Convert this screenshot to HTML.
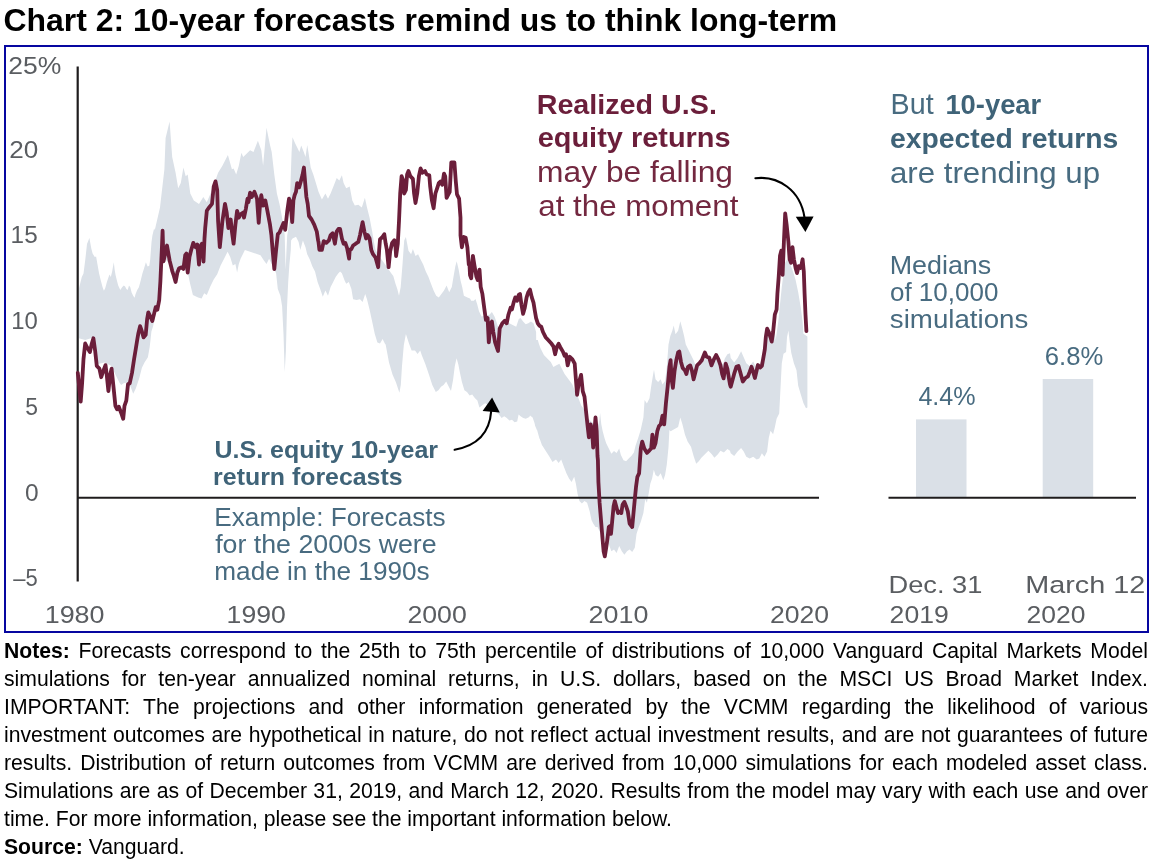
<!DOCTYPE html>
<html><head><meta charset="utf-8"><title>Chart 2</title>
<style>
html,body{margin:0;padding:0;background:#fff;}
body{width:1156px;height:866px;position:relative;overflow:hidden;will-change:transform;font-family:"Liberation Sans",Arial,sans-serif;color:#000;}
.title{position:absolute;left:3.5px;top:1.7px;font-size:31.93px;font-weight:bold;line-height:36px;white-space:nowrap;letter-spacing:0px;}
.ln{position:absolute;left:4px;width:1144px;font-size:21.17px;line-height:28px;height:28px;white-space:nowrap;}
.ln.j{white-space:normal;text-align:justify;text-align-last:justify;}
</style></head><body>
<div class="title">Chart 2: 10-year forecasts remind us to think long-term</div>
<svg width="1156" height="640" viewBox="0 0 1156 640" style="position:absolute;left:0;top:0" font-family="Liberation Sans, Arial, sans-serif"><rect x="5" y="46" width="1143" height="586" fill="#fff" stroke="#0606a0" stroke-width="2"/><path d="M78.8,289.1 L81.8,276.9 L83.5,273.5 L85.3,259.6 L87.0,244.0 L89.4,238.0 L91.3,248.4 L92.6,253.6 L94.8,257.0 L96.1,256.6 L97.4,264.0 L99.1,273.5 L100.8,280.4 L102.6,287.3 L103.9,290.8 L105.2,288.2 L106.9,282.1 L108.6,276.9 L109.5,274.4 L110.8,276.9 L112.1,271.8 L113.8,262.2 L114.7,270.0 L115.6,275.2 L116.9,280.4 L118.2,285.6 L120.3,289.9 L122.1,287.3 L123.8,285.6 L125.1,286.5 L126.4,289.1 L127.7,289.9 L129.0,285.6 L130.3,287.3 L131.6,292.5 L133.3,296.0 L134.6,297.7 L135.5,294.3 L137.2,289.9 L138.9,287.3 L140.7,280.4 L142.4,273.5 L144.1,268.3 L145.9,262.2 L147.6,266.6 L149.3,265.7 L150.2,259.6 L151.5,242.3 L152.4,235.4 L154.1,228.5 L154.8,229.9 L160.0,207.4 L164.4,169.3 L165.6,138.1 L169.6,121.6 L172.2,157.1 L175.6,172.7 L178.2,188.3 L180.8,183.1 L183.4,167.5 L185.7,176.2 L187.7,174.5 L190.3,193.5 L193.8,200.4 L199.0,203.9 L203.3,197.0 L206.8,202.2 L212.0,190.0 L218.1,172.7 L222.4,165.8 L227.9,155.1 L231.9,169.3 L233.6,168.4 L236.2,174.5 L238.8,165.8 L241.4,152.8 L243.2,157.1 L245.8,154.5 L250.1,150.2 L253.5,151.9 L257.9,140.7 L261.3,150.2 L263.1,165.8 L266.5,127.7 L270.0,145.0 L271.7,151.9 L274.3,174.5 L276.9,193.5 L279.5,203.9 L282.1,217.7 L283.9,228.1 L284.7,235.2 L285.6,269.8 L287.3,233.3 L287.3,235.2 L289.4,221.2 L290.4,186.6 L291.6,151.9 L292.5,137.2 L295.1,143.3 L297.7,148.5 L299.4,151.9 L301.2,145.4 L303.8,151.9 L305.5,157.1 L307.2,145.0 L308.4,151.9 L310.7,167.5 L313.3,174.5 L315.9,183.1 L318.5,191.8 L321.9,199.6 L325.4,193.5 L328.0,198.7 L330.6,193.5 L334.1,184.8 L336.7,177.9 L339.3,180.5 L341.9,175.3 L343.6,183.1 L346.2,188.3 L349.7,186.6 L352.3,200.4 L354.8,205.6 L358.3,204.8 L361.8,207.4 L364.9,197.8 L367.0,207.4 L369.6,217.7 L372.2,231.6 L373.9,242.0 L375.6,250.0 L380.8,258.6 L385.2,264.6 L389.5,270.7 L391.2,273.3 L393.3,275.9 L395.5,283.7 L397.3,288.9 L399.0,295.8 L400.7,287.1 L402.5,264.6 L404.2,240.4 L405.9,236.9 L408.5,250.8 L411.1,254.2 L412.9,249.0 L415.5,256.0 L418.1,254.2 L420.6,259.4 L423.2,264.6 L425.8,271.6 L428.4,276.8 L431.0,283.7 L433.6,290.6 L436.2,295.8 L438.8,297.5 L441.4,294.1 L444.0,290.6 L446.6,285.4 L449.2,292.3 L451.8,287.1 L453.5,276.8 L455.3,266.4 L456.7,261.2 L458.7,269.8 L460.5,280.2 L462.2,287.1 L463.9,295.8 L467.4,297.5 L470.0,298.4 L471.2,300.8 L473.8,300.8 L475.5,299.1 L477.2,304.3 L479.0,311.2 L481.6,316.4 L489.4,314.7 L491.9,312.1 L494.5,316.4 L496.3,321.6 L498.0,326.8 L509.3,323.3 L512.7,325.1 L516.2,326.8 L518.8,319.0 L520.5,318.1 L523.1,321.6 L525.7,324.2 L528.3,323.3 L530.9,321.6 L533.5,323.3 L536.1,332.0 L536.2,340.0 L537.8,340.0 L538.8,343.5 L540.4,348.1 L543.9,355.0 L547.3,358.5 L550.8,361.9 L553.4,367.1 L556.0,365.4 L559.4,363.7 L562.0,368.9 L564.6,374.1 L567.2,377.5 L569.8,381.0 L572.4,384.5 L575.0,391.4 L578.5,398.3 L581.1,405.2 L583.7,408.7 L587.1,417.4 L592.3,422.6 L598.4,424.3 L599.3,420.8 L600.1,413.0 L601.3,424.3 L602.7,431.2 L604.5,438.1 L606.2,443.3 L608.8,448.5 L611.4,453.7 L614.0,451.1 L616.6,452.9 L619.2,448.5 L620.9,455.1 L623.5,460.3 L626.1,461.2 L628.7,458.6 L631.3,456.0 L633.9,452.5 L635.6,445.6 L638.2,438.1 L640.8,429.5 L643.4,417.4 L644.6,400.0 L646.9,403.5 L649.5,398.3 L651.2,386.2 L652.9,375.8 L654.0,369.7 L655.5,379.3 L658.1,381.9 L660.7,379.3 L662.5,384.5 L665.1,381.0 L666.8,367.1 L668.5,344.6 L670.3,336.0 L672.3,330.8 L673.7,325.6 L675.5,334.2 L678.1,330.8 L680.3,321.3 L682.4,329.0 L684.1,336.0 L685.8,344.6 L688.4,349.8 L691.0,355.0 L693.6,360.2 L696.2,367.1 L699.7,365.4 L703.2,360.2 L706.6,358.5 L711.8,363.7 L716.1,358.5 L720.5,363.7 L723.1,363.7 L724.8,358.5 L727.4,354.2 L730.0,353.3 L730.7,358.1 L734.2,362.4 L737.6,358.1 L741.1,351.2 L743.7,357.2 L746.3,363.3 L749.7,365.9 L753.2,361.6 L755.8,366.8 L759.3,365.0 L762.7,358.1 L765.3,346.0 L767.9,333.9 L772.3,337.3 L774.0,323.5 L775.7,340.0 L778.3,321.6 L780.0,304.3 L781.8,287.0 L783.5,273.1 L785.2,262.7 L787.0,259.3 L790.4,264.5 L793.0,271.4 L795.6,280.0 L798.2,292.2 L800.8,307.7 L802.6,321.6 L803.4,333.7 L807.4,336.5 L807.4,407.4 L806.0,408.3 L803.4,403.1 L800.8,394.5 L798.2,385.8 L796.5,370.2 L793.9,363.3 L791.3,352.9 L789.6,340.8 L788.4,330.4 L787.0,337.3 L786.1,352.0 L783.5,353.8 L781.8,363.3 L780.9,380.6 L780.0,397.9 L779.2,413.5 L776.6,418.7 L774.8,427.4 L773.1,434.3 L770.5,430.8 L768.8,437.7 L767.1,451.6 L764.5,456.8 L761.9,453.3 L759.3,458.5 L756.7,459.4 L753.2,456.8 L749.7,458.5 L746.3,456.8 L743.7,451.6 L741.1,448.1 L737.6,451.6 L734.2,455.9 L730.7,453.3 L730.0,450.8 L727.4,449.0 L723.9,452.5 L720.5,450.8 L717.9,454.2 L714.4,457.7 L711.8,454.2 L708.4,450.8 L704.9,454.2 L701.4,457.7 L698.8,461.2 L696.2,463.8 L693.6,456.0 L691.0,446.8 L687.6,441.6 L685.0,434.7 L682.4,424.3 L680.3,417.4 L678.1,426.9 L675.5,428.6 L670.6,431.2 L669.4,430.0 L668.5,447.3 L666.8,464.6 L665.1,475.0 L663.3,480.2 L660.7,473.3 L658.1,476.8 L655.5,475.0 L653.8,469.8 L652.1,478.5 L650.3,483.7 L648.6,494.1 L646.9,502.7 L645.2,499.3 L643.4,513.1 L640.8,521.8 L638.2,528.7 L636.5,533.9 L634.8,547.7 L632.2,552.1 L629.6,549.5 L627.0,551.2 L624.4,554.7 L621.8,551.2 L619.2,546.0 L616.6,552.9 L614.0,549.5 L611.4,551.2 L608.8,544.3 L606.2,540.8 L601.0,533.9 L597.5,527.0 L595.5,527.0 L593.2,523.5 L591.5,520.0 L589.7,511.4 L587.1,502.7 L584.5,501.0 L581.9,503.6 L579.4,501.0 L577.6,494.1 L575.9,483.7 L574.2,476.8 L571.6,481.9 L569.0,478.5 L566.4,473.3 L563.8,466.4 L561.2,459.4 L558.6,462.9 L556.0,459.4 L552.5,462.0 L549.0,456.0 L545.6,450.8 L542.3,445.6 L542.1,445.6 L539.7,438.7 L539.5,438.7 L537.1,430.0 L536.9,430.0 L535.2,426.0 L534.5,423.1 L532.8,417.9 L532.6,417.4 L530.0,415.6 L529.3,417.1 L525.8,418.8 L523.2,417.9 L520.6,416.2 L518.6,414.5 L517.2,421.4 L514.6,422.3 L512.0,419.7 L509.4,420.5 L506.8,417.9 L504.2,416.2 L501.6,417.9 L499.0,414.5 L494.7,411.0 L489.5,405.8 L485.2,403.2 L482.6,404.9 L479.4,407.5 L477.4,400.6 L474.8,398.0 L472.2,394.5 L469.6,395.4 L467.0,391.9 L464.4,390.2 L461.8,381.6 L460.0,372.9 L458.3,364.2 L456.6,358.2 L454.8,366.0 L453.1,379.8 L451.0,391.1 L448.8,386.8 L446.2,381.6 L443.6,385.0 L441.0,386.8 L438.4,390.2 L435.8,391.9 L432.3,385.0 L428.9,374.6 L425.4,364.2 L421.9,355.6 L420.2,350.4 L417.6,353.9 L415.0,350.4 L411.6,350.4 L409.0,343.5 L405.9,333.9 L403.8,345.2 L402.0,366.0 L400.8,385.0 L399.4,392.8 L396.0,382.4 L392.5,374.6 L389.0,362.5 L385.6,344.3 L385.2,344.3 L382.6,339.1 L380.0,343.4 L377.4,342.6 L374.8,333.9 L372.2,321.8 L369.6,309.7 L367.0,299.3 L365.2,294.1 L362.6,301.9 L360.0,299.3 L356.6,300.1 L353.1,299.3 L351.4,288.9 L348.8,281.9 L346.2,283.7 L344.5,280.2 L341.9,273.3 L340.1,271.6 L338.4,273.3 L335.8,276.8 L333.2,281.9 L330.6,287.1 L328.0,295.8 L325.4,290.6 L322.8,296.7 L320.2,288.9 L317.6,281.9 L315.0,271.6 L312.4,266.4 L309.8,259.4 L307.2,254.2 L305.5,247.3 L302.9,240.4 L300.3,250.0 L298.6,242.0 L296.0,236.8 L292.5,238.5 L291.1,240.4 L290.8,250.0 L289.4,264.6 L288.2,281.9 L287.0,307.9 L285.9,351.2 L284.7,372.0 L283.5,333.9 L282.1,306.2 L280.4,295.8 L277.8,288.9 L276.1,273.3 L269.1,258.7 L266.5,263.9 L263.9,260.4 L260.5,255.2 L244.9,250.0 L243.2,253.5 L240.6,258.7 L238.8,263.9 L237.1,272.5 L235.4,263.9 L232.8,265.6 L230.2,256.9 L227.6,251.7 L224.1,258.7 L220.6,265.6 L217.2,274.2 L213.7,279.4 L210.3,286.4 L206.8,295.0 L204.2,293.3 L201.6,298.5 L198.1,297.6 L192.9,295.0 L190.3,284.6 L187.7,272.5 L182.6,269.0 L178.2,270.8 L175.6,279.4 L170.4,265.6 L164.4,257.8 L161.8,262.1 L160.4,281.2 L159.2,300.2 L156.6,310.6 L154.8,317.5 L153.1,326.2 L151.4,331.4 L150.5,340.0 L149.7,346.9 L147.9,357.3 L144.5,362.5 L141.9,367.7 L139.3,378.1 L135.8,388.5 L133.2,393.7 L130.6,386.8 L127.1,382.4 L123.7,383.3 L121.1,385.0 L119.4,382.4 L115.4,374.6 L111.6,366.0 L104.6,362.5 L96.8,364.2 L93.4,337.4 L85.2,340.0 L78.7,338.3 Z" fill="#dae0e7" stroke="none"/><rect x="916" y="419.4" width="50.5" height="78" fill="#dae0e7"/><rect x="1042.7" y="379" width="50.5" height="118.5" fill="#dae0e7"/><line x1="77.7" y1="66.5" x2="77.7" y2="581.5" stroke="#1f1c1d" stroke-width="2.2"/><line x1="77" y1="497.8" x2="819" y2="497.8" stroke="#1f1c1d" stroke-width="2"/><line x1="888.5" y1="497.8" x2="1136" y2="497.8" stroke="#1f1c1d" stroke-width="2"/><path d="M77.8,372.9 L79.5,390.2 L80.7,401.5 L82.1,383.3 L83.5,359.0 L85.2,343.5 L87.3,347.8 L89.9,352.1 L91.6,344.3 L93.4,338.3 L95.1,350.4 L96.8,366.0 L99.4,368.6 L101.2,377.2 L103.2,371.2 L105.5,365.1 L106.7,374.6 L108.4,391.1 L110.2,374.6 L111.6,368.6 L113.3,385.0 L115.4,405.8 L117.1,409.3 L118.8,406.7 L121.1,412.7 L123.2,418.8 L124.5,405.8 L126.3,400.6 L128.0,384.2 L129.7,383.3 L132.0,372.9 L134.1,359.0 L135.8,348.7 L137.2,340.0 L138.4,333.1 L140.1,326.2 L141.9,331.4 L143.6,337.4 L145.7,334.8 L147.1,319.3 L148.3,312.3 L150.0,315.8 L152.3,321.0 L154.0,314.1 L155.7,307.1 L157.4,309.7 L159.2,300.2 L160.4,281.2 L161.8,250.0 L162.6,230.7 L163.5,261.4 L167.0,245.5 L167.8,250.0 L169.6,260.4 L172.2,270.8 L173.9,276.0 L175.6,282.0 L177.4,272.5 L179.1,268.2 L181.7,267.3 L183.4,269.0 L185.2,255.2 L186.4,253.5 L187.7,272.5 L189.5,256.9 L191.2,250.0 L193.3,242.9 L195.5,247.2 L197.3,244.6 L199.0,264.7 L199.9,247.2 L201.9,243.7 L203.5,261.7 L204.5,238.5 L205.2,228.1 L206.8,210.8 L208.5,208.2 L212.0,203.9 L213.7,186.6 L215.5,181.4 L217.2,190.0 L218.1,221.2 L219.8,247.2 L222.4,221.2 L225.0,203.9 L226.7,212.6 L228.4,228.1 L230.7,219.5 L231.9,231.6 L233.6,243.7 L235.4,224.7 L237.1,210.8 L238.8,217.7 L240.6,214.3 L243.2,212.6 L244.0,217.7 L245.8,209.1 L247.5,198.7 L248.4,202.2 L250.1,192.6 L251.8,197.0 L254.4,191.8 L257.0,198.7 L258.7,222.9 L260.1,203.9 L261.3,195.2 L263.1,205.6 L265.3,200.4 L267.4,210.8 L270.0,224.7 L271.4,235.1 L272.6,250.0 L274.3,269.0 L276.1,250.0 L277.8,234.2 L279.5,232.5 L281.3,228.1 L283.5,222.9 L285.2,229.9 L287.3,210.8 L289.0,198.7 L290.4,202.2 L292.2,222.1 L293.4,200.4 L294.6,195.2 L296.0,191.8 L297.2,183.1 L299.1,187.4 L300.8,181.4 L302.6,174.5 L303.9,167.5 L305.2,183.1 L306.4,197.0 L307.7,203.9 L309.0,216.0 L311.6,219.5 L314.2,224.7 L316.8,231.6 L318.1,240.4 L318.5,242.0 L319.4,249.9 L321.9,249.9 L323.7,241.1 L326.3,242.9 L328.9,240.3 L330.6,235.1 L332.7,233.3 L334.9,243.7 L336.7,231.6 L338.4,229.0 L340.1,229.0 L341.9,238.5 L343.6,243.7 L345.3,242.9 L347.1,248.1 L349.1,258.6 L349.7,250.0 L351.4,249.0 L353.1,245.5 L355.7,243.7 L358.3,242.0 L360.0,235.1 L362.6,222.1 L364.4,231.6 L366.1,238.5 L367.8,235.1 L369.6,238.5 L371.3,250.0 L373.0,254.2 L375.6,257.7 L378.2,267.2 L379.1,250.8 L380.0,239.4 L382.6,236.8 L384.3,234.2 L385.7,243.7 L386.9,250.0 L388.6,267.2 L390.3,250.0 L390.3,250.8 L392.1,242.9 L394.3,240.3 L395.5,247.2 L396.1,256.0 L397.8,243.7 L399.0,221.2 L400.2,193.5 L401.6,176.2 L403.0,179.7 L404.2,193.5 L405.9,190.0 L407.1,174.5 L408.5,171.0 L410.3,176.2 L412.9,178.8 L414.1,193.5 L415.5,203.0 L417.2,193.5 L418.9,176.2 L420.6,168.4 L422.4,172.7 L425.0,171.0 L426.7,174.5 L429.3,175.3 L430.2,186.6 L431.9,200.4 L433.6,208.2 L435.4,193.5 L437.1,188.3 L438.8,183.1 L440.6,181.4 L442.3,184.8 L444.0,173.6 L445.2,176.2 L446.6,197.8 L448.4,194.4 L449.7,191.8 L451.3,162.3 L454.4,162.3 L455.8,181.4 L457.0,194.4 L459.1,198.7 L460.5,217.7 L460.5,235.2 L461.9,247.3 L463.6,236.9 L465.7,237.8 L467.4,247.3 L468.8,264.6 L469.4,262.7 L470.0,275.0 L471.2,278.3 L472.9,255.8 L474.6,266.2 L476.4,276.6 L477.7,280.0 L479.5,269.7 L480.7,287.0 L482.4,293.9 L484.2,307.7 L485.9,319.9 L487.6,318.1 L488.8,342.4 L490.6,323.3 L491.9,321.6 L493.3,332.0 L495.1,342.4 L498.0,351.0 L499.7,328.5 L502.3,323.3 L504.9,320.7 L506.7,323.3 L508.4,314.7 L510.6,307.7 L511.9,309.5 L513.6,302.6 L515.3,297.4 L517.1,300.8 L518.8,294.8 L520.0,293.9 L521.4,304.3 L523.1,313.8 L524.8,307.7 L526.6,297.4 L528.3,292.2 L530.0,289.6 L531.8,297.4 L533.5,302.6 L534.9,311.2 L536.1,318.1 L537.8,323.3 L539.6,325.9 L541.3,326.8 L543.0,332.0 L545.6,337.2 L548.2,340.0 L551.6,343.8 L553.4,346.4 L555.1,354.2 L556.8,347.2 L558.6,343.8 L560.3,347.2 L562.9,351.6 L564.6,355.9 L566.0,354.2 L567.7,365.4 L569.8,356.8 L572.4,359.4 L574.7,363.7 L575.9,379.3 L577.1,394.8 L578.8,382.7 L581.1,374.9 L582.8,391.4 L584.5,396.6 L586.3,413.9 L588.0,429.5 L588.9,437.3 L590.6,424.3 L592.0,429.5 L593.2,447.7 L595.5,417.4 L596.7,431.2 L597.5,456.0 L597.9,460.0 L598.4,481.9 L599.6,502.7 L601.0,520.0 L602.4,537.4 L603.6,551.2 L604.8,556.4 L606.2,547.7 L607.6,537.4 L608.8,527.0 L610.0,526.1 L611.0,533.9 L612.3,520.0 L613.6,506.2 L614.8,501.0 L616.2,506.2 L618.0,513.1 L620.0,511.4 L621.3,513.1 L622.6,504.5 L624.4,501.9 L626.1,506.2 L627.8,511.4 L629.6,523.5 L632.2,527.0 L633.5,513.1 L634.8,499.3 L636.0,487.1 L637.4,476.8 L639.1,473.3 L640.0,460.0 L640.8,448.5 L642.2,441.6 L644.3,448.5 L646.9,452.9 L649.5,450.3 L651.2,448.5 L652.4,434.7 L653.8,447.7 L655.5,443.3 L657.3,431.2 L659.0,426.0 L660.7,424.3 L662.5,415.6 L664.2,424.3 L665.9,403.5 L667.7,386.2 L669.4,367.1 L670.6,360.2 L671.6,379.3 L672.9,387.9 L674.6,370.6 L676.3,360.2 L678.1,352.4 L679.3,351.6 L681.0,361.9 L682.7,368.0 L685.0,370.6 L686.4,374.1 L687.9,367.1 L690.2,365.4 L691.9,370.6 L693.6,379.3 L695.4,372.3 L697.1,365.4 L699.7,362.8 L701.8,360.2 L704.9,352.4 L706.6,356.8 L709.2,357.6 L711.5,365.4 L713.5,360.2 L716.1,355.0 L718.4,359.4 L720.5,365.4 L722.2,374.1 L723.6,378.4 L725.7,363.7 L727.4,368.9 L729.1,379.3 L730.0,384.5 L730.7,386.7 L732.4,380.6 L734.2,373.7 L736.4,366.8 L738.5,365.9 L740.2,371.9 L742.8,381.5 L745.4,378.0 L748.0,376.3 L749.7,371.9 L751.5,366.8 L753.2,371.9 L754.9,378.0 L756.7,370.2 L757.9,365.0 L760.1,367.6 L761.9,365.9 L763.6,356.4 L764.8,349.4 L765.8,337.3 L767.1,328.7 L768.8,332.1 L770.5,337.3 L771.7,341.6 L773.1,332.1 L774.3,320.0 L774.8,314.7 L776.6,309.5 L777.4,293.9 L778.7,276.6 L780.0,255.8 L781.3,250.6 L782.6,274.8 L783.9,241.9 L785.2,213.4 L786.6,224.6 L788.4,241.9 L789.6,259.3 L791.0,262.7 L792.5,247.1 L793.9,259.3 L795.6,267.9 L797.0,273.1 L798.7,266.2 L800.8,267.9 L802.6,259.3 L803.8,271.4 L804.6,293.9 L805.5,314.7 L806.4,331.1" fill="none" stroke="#6b1e3a" stroke-width="3.8" stroke-linejoin="round" stroke-linecap="round"/><path d="M454.6,449.7 C471,446.8 489.3,437.8 491.2,411" fill="none" stroke="#000" stroke-width="2.1" stroke-linecap="round"/><path d="M492.1,397.5 L482.6,411 L499.8,412.6 Z" fill="#000"/><path d="M755.4,178.2 C778,175.5 800.5,190 804.5,217.5" fill="none" stroke="#000" stroke-width="2.1" stroke-linecap="round"/><path d="M795.8,216.8 L813.6,216.4 L805.4,232 Z" fill="#000"/><text x="8.32" y="73.9" font-size="24.5" fill="#5a5d61" font-weight="normal" text-anchor="start" textLength="53.12" lengthAdjust="spacingAndGlyphs">25%</text><text x="9.33" y="157.7" font-size="24.5" fill="#5a5d61" font-weight="normal" text-anchor="start" textLength="29.05" lengthAdjust="spacingAndGlyphs">20</text><text x="10.62" y="243.3" font-size="24.5" fill="#5a5d61" font-weight="normal" text-anchor="start" textLength="27.05" lengthAdjust="spacingAndGlyphs">15</text><text x="11.25" y="328.5" font-size="24.5" fill="#5a5d61" font-weight="normal" text-anchor="start" textLength="26.61" lengthAdjust="spacingAndGlyphs">10</text><text x="25.27" y="414.5" font-size="24.5" fill="#5a5d61" font-weight="normal" text-anchor="start" textLength="12.73" lengthAdjust="spacingAndGlyphs">5</text><text x="25.0" y="501.0" font-size="24.5" fill="#5a5d61" font-weight="normal" text-anchor="start" textLength="13.64" lengthAdjust="spacingAndGlyphs">0</text><text x="13.2" y="585.9" font-size="24.5" fill="#5a5d61" font-weight="normal" text-anchor="start" textLength="24.44" lengthAdjust="spacingAndGlyphs">–5</text><text x="44.7" y="622.8" font-size="24.5" fill="#5a5d61" font-weight="normal" text-anchor="start" textLength="59.86" lengthAdjust="spacingAndGlyphs">1980</text><text x="226.63" y="622.8" font-size="24.5" fill="#5a5d61" font-weight="normal" text-anchor="start" textLength="59.13" lengthAdjust="spacingAndGlyphs">1990</text><text x="407.41" y="622.8" font-size="24.5" fill="#5a5d61" font-weight="normal" text-anchor="start" textLength="59.35" lengthAdjust="spacingAndGlyphs">2000</text><text x="588.6" y="622.8" font-size="24.5" fill="#5a5d61" font-weight="normal" text-anchor="start" textLength="59.76" lengthAdjust="spacingAndGlyphs">2010</text><text x="769.92" y="622.8" font-size="24.5" fill="#5a5d61" font-weight="normal" text-anchor="start" textLength="59.14" lengthAdjust="spacingAndGlyphs">2020</text><text x="888.48" y="592.5" font-size="24.5" fill="#5a5d61" font-weight="normal" text-anchor="start" textLength="93.92" lengthAdjust="spacingAndGlyphs">Dec. 31</text><text x="889.62" y="622.8" font-size="24.5" fill="#5a5d61" font-weight="normal" text-anchor="start" textLength="59.14" lengthAdjust="spacingAndGlyphs">2019</text><text x="1025.25" y="592.5" font-size="24.5" fill="#5a5d61" font-weight="normal" text-anchor="start" textLength="120.09" lengthAdjust="spacingAndGlyphs">March 12</text><text x="1026.52" y="622.8" font-size="24.5" fill="#5a5d61" font-weight="normal" text-anchor="start" textLength="58.94" lengthAdjust="spacingAndGlyphs">2020</text><text x="536.69" y="113.7" font-size="28.5" fill="#6b1e3a" font-weight="bold" text-anchor="start" textLength="180.21" lengthAdjust="spacingAndGlyphs">Realized U.S.</text><text x="537.69" y="147.3" font-size="28.5" fill="#6b1e3a" font-weight="bold" text-anchor="start" textLength="192.88" lengthAdjust="spacingAndGlyphs">equity returns</text><text x="537.11" y="182.3" font-size="29" fill="#732840" font-weight="normal" text-anchor="start" textLength="195.91" lengthAdjust="spacingAndGlyphs">may be falling</text><text x="538.22" y="216.3" font-size="29" fill="#732840" font-weight="normal" text-anchor="start" textLength="200.18" lengthAdjust="spacingAndGlyphs">at the moment</text><text x="890.62" y="114.0" font-size="29" fill="#486b80" font-weight="normal" text-anchor="start" textLength="43.01" lengthAdjust="spacingAndGlyphs">But</text><text x="945.38" y="114.0" font-size="28.5" fill="#3f6378" font-weight="bold" text-anchor="start" textLength="95.87" lengthAdjust="spacingAndGlyphs">10-year</text><text x="890.01" y="148.0" font-size="28.5" fill="#3f6378" font-weight="bold" text-anchor="start" textLength="228.26" lengthAdjust="spacingAndGlyphs">expected returns</text><text x="889.92" y="182.6" font-size="29" fill="#486b80" font-weight="normal" text-anchor="start" textLength="210.16" lengthAdjust="spacingAndGlyphs">are trending up</text><text x="889.65" y="274.1" font-size="25" fill="#486b80" font-weight="normal" text-anchor="start" textLength="101.59" lengthAdjust="spacingAndGlyphs">Medians</text><text x="889.96" y="301.0" font-size="25" fill="#486b80" font-weight="normal" text-anchor="start" textLength="108.46" lengthAdjust="spacingAndGlyphs">of 10,000</text><text x="889.89" y="327.9" font-size="25" fill="#486b80" font-weight="normal" text-anchor="start" textLength="138.38" lengthAdjust="spacingAndGlyphs">simulations</text><text x="918.4" y="404.8" font-size="25" fill="#486b80" font-weight="normal" text-anchor="start" textLength="57.19" lengthAdjust="spacingAndGlyphs">4.4%</text><text x="1044.77" y="365.0" font-size="25" fill="#486b80" font-weight="normal" text-anchor="start" textLength="58.43" lengthAdjust="spacingAndGlyphs">6.8%</text><text x="214.56" y="458.1" font-size="24" fill="#3f6378" font-weight="bold" text-anchor="start" textLength="223.5" lengthAdjust="spacingAndGlyphs">U.S. equity 10-year</text><text x="213.13" y="485.4" font-size="24" fill="#3f6378" font-weight="bold" text-anchor="start" textLength="189.43" lengthAdjust="spacingAndGlyphs">return forecasts</text><text x="214.31" y="525.5" font-size="25" fill="#486b80" font-weight="normal" text-anchor="start" textLength="231.36" lengthAdjust="spacingAndGlyphs">Example: Forecasts</text><text x="215.2" y="552.8" font-size="25" fill="#486b80" font-weight="normal" text-anchor="start" textLength="221.45" lengthAdjust="spacingAndGlyphs">for the 2000s were</text><text x="214.31" y="579.8" font-size="25" fill="#486b80" font-weight="normal" text-anchor="start" textLength="215.33" lengthAdjust="spacingAndGlyphs">made in the 1990s</text></svg>
<div class="ln j" style="top:637.3px"><b>Notes:</b> Forecasts correspond to the 25th to 75th percentile of distributions of 10,000 Vanguard Capital Markets Model</div><div class="ln j" style="top:665.3px">simulations for ten-year annualized nominal returns, in U.S. dollars, based on the MSCI US Broad Market Index.</div><div class="ln j" style="top:693.3px">IMPORTANT: The projections and other information generated by the VCMM regarding the likelihood of various</div><div class="ln j" style="top:721.3px">investment outcomes are hypothetical in nature, do not reflect actual investment results, and are not guarantees of future</div><div class="ln j" style="top:749.3px">results. Distribution of return outcomes from VCMM are derived from 10,000 simulations for each modeled asset class.</div><div class="ln j" style="top:777.3px">Simulations are as of December 31, 2019, and March 12, 2020. Results from the model may vary with each use and over</div><div class="ln" style="top:805.3px">time. For more information, please see the important information below.</div><div class="ln" style="top:833.3px"><b>Source:</b> Vanguard.</div>
</body></html>
